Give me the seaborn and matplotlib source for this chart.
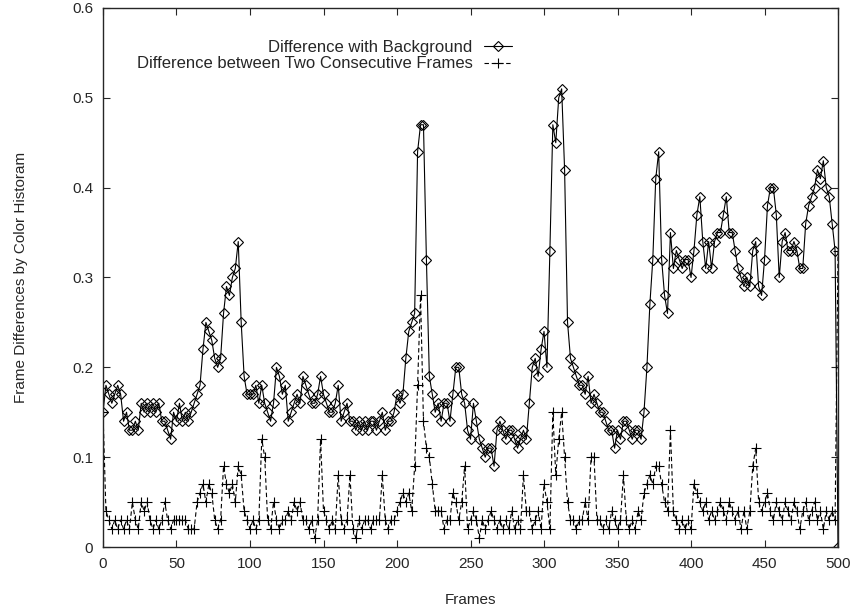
import matplotlib
matplotlib.use("Agg")
import matplotlib.pyplot as plt
import seaborn as sns
import numpy as np
import pandas as pd

frames = np.arange(0, 501, 2)

diff_background = [
    0.15, 0.18, 0.17, 0.16, 0.17, 0.18, 0.17, 0.14, 0.15, 0.13,
    0.13, 0.14, 0.13, 0.16, 0.15, 0.16, 0.15, 0.16, 0.15, 0.16,
    0.14, 0.14, 0.13, 0.12, 0.15, 0.14, 0.16, 0.14, 0.15, 0.14,
    0.15, 0.16, 0.17, 0.18, 0.22, 0.25, 0.24, 0.23, 0.21, 0.20,
    0.21, 0.26, 0.29, 0.28, 0.30, 0.31, 0.34, 0.25, 0.19, 0.17,
    0.17, 0.17, 0.18, 0.16, 0.18, 0.16, 0.15, 0.14, 0.16, 0.20,
    0.19, 0.17, 0.18, 0.14, 0.15, 0.16, 0.17, 0.16, 0.19, 0.18,
    0.17, 0.16, 0.16, 0.17, 0.19, 0.17, 0.16, 0.15, 0.15, 0.16,
    0.18, 0.14, 0.15, 0.16, 0.14, 0.14, 0.13, 0.14, 0.13, 0.14,
    0.13, 0.14, 0.14, 0.13, 0.14, 0.15, 0.13, 0.14, 0.14, 0.15,
    0.17, 0.16, 0.17, 0.21, 0.24, 0.25, 0.26, 0.44, 0.47, 0.47,
    0.32, 0.19, 0.17, 0.15, 0.16, 0.14, 0.16, 0.16, 0.14, 0.17,
    0.20, 0.20, 0.17, 0.16, 0.13, 0.12, 0.16, 0.14, 0.12, 0.11,
    0.10, 0.11, 0.11, 0.09, 0.13, 0.14, 0.13, 0.12, 0.13, 0.13,
    0.12, 0.11, 0.12, 0.13, 0.12, 0.16, 0.20, 0.21, 0.19, 0.22,
    0.24, 0.20, 0.33, 0.47, 0.45, 0.50, 0.51, 0.42, 0.25, 0.21,
    0.20, 0.19, 0.18, 0.18, 0.17, 0.19, 0.16, 0.17, 0.16, 0.15,
    0.15, 0.14, 0.13, 0.13, 0.11, 0.13, 0.12, 0.14, 0.14, 0.13,
    0.12, 0.13, 0.13, 0.12, 0.15, 0.20, 0.27, 0.32, 0.41, 0.44,
    0.32, 0.28, 0.26, 0.35, 0.31, 0.33, 0.32, 0.31, 0.32, 0.32,
    0.30, 0.33, 0.37, 0.39, 0.34, 0.31, 0.34, 0.31, 0.34, 0.35,
    0.35, 0.37, 0.39, 0.35, 0.35, 0.33, 0.31, 0.30, 0.29, 0.30,
    0.29, 0.33, 0.34, 0.29, 0.28, 0.32, 0.38, 0.40, 0.40, 0.37,
    0.30, 0.34, 0.35, 0.33, 0.33, 0.34, 0.33, 0.31, 0.31, 0.36,
    0.38, 0.39, 0.40, 0.42, 0.41, 0.43, 0.40, 0.39, 0.36, 0.33,
    0.00,
]

diff_consecutive = [
    0.15, 0.04, 0.03, 0.02, 0.03, 0.02, 0.03, 0.02, 0.03, 0.02,
    0.05, 0.03, 0.02, 0.05, 0.04, 0.05, 0.03, 0.02, 0.03, 0.02,
    0.03, 0.05, 0.03, 0.02, 0.03, 0.03, 0.03, 0.03, 0.03, 0.02,
    0.02, 0.02, 0.05, 0.06, 0.07, 0.05, 0.07, 0.06, 0.03, 0.02,
    0.03, 0.09, 0.07, 0.06, 0.07, 0.05, 0.09, 0.08, 0.04, 0.03,
    0.02, 0.03, 0.02, 0.03, 0.12, 0.10, 0.03, 0.02, 0.05, 0.03,
    0.02, 0.03, 0.03, 0.04, 0.03, 0.05, 0.04, 0.05, 0.03, 0.03,
    0.02, 0.03, 0.01, 0.03, 0.12, 0.04, 0.03, 0.02, 0.03, 0.02,
    0.08, 0.03, 0.02, 0.03, 0.08, 0.02, 0.01, 0.03, 0.02, 0.03,
    0.03, 0.02, 0.03, 0.03, 0.03, 0.08, 0.03, 0.02, 0.03, 0.03,
    0.04, 0.05, 0.06, 0.05, 0.06, 0.04, 0.09, 0.18, 0.28, 0.14,
    0.11, 0.10, 0.07, 0.04, 0.04, 0.04, 0.02, 0.03, 0.03, 0.06,
    0.05, 0.03, 0.05, 0.09, 0.02, 0.03, 0.04, 0.03, 0.01, 0.03,
    0.02, 0.03, 0.04, 0.03, 0.02, 0.03, 0.02, 0.03, 0.02, 0.04,
    0.02, 0.03, 0.02, 0.08, 0.04, 0.04, 0.02, 0.03, 0.04, 0.02,
    0.07, 0.05, 0.02, 0.15, 0.08, 0.12, 0.15, 0.10, 0.05, 0.03,
    0.03, 0.02, 0.03, 0.03, 0.05, 0.03, 0.10, 0.10, 0.03, 0.03,
    0.02, 0.03, 0.02, 0.04, 0.03, 0.02, 0.03, 0.08, 0.03, 0.02,
    0.03, 0.02, 0.04, 0.03, 0.06, 0.07, 0.08, 0.07, 0.09, 0.09,
    0.07, 0.05, 0.04, 0.13, 0.04, 0.03, 0.02, 0.03, 0.02, 0.03,
    0.02, 0.07, 0.06, 0.05, 0.04, 0.05, 0.03, 0.04, 0.03, 0.04,
    0.05, 0.04, 0.03, 0.05, 0.04, 0.03, 0.04, 0.02, 0.04, 0.02,
    0.04, 0.09, 0.11, 0.05, 0.04, 0.05, 0.06, 0.04, 0.03, 0.05,
    0.04, 0.03, 0.05, 0.04, 0.03, 0.05, 0.04, 0.02, 0.04, 0.05,
    0.03, 0.04, 0.05, 0.03, 0.04, 0.02, 0.04, 0.03, 0.04, 0.03,
    0.33,
]

series_labels = ["Difference with Background",
                 "Difference between Two Consecutive Frames"]
x_ticks = np.arange(0, 501, 50)
y_ticks = [0, 0.1, 0.2, 0.3, 0.4, 0.5, 0.6]
y_tick_labels = ["0", "0.1", "0.2", "0.3", "0.4", "0.5", "0.6"]

sns.set_style("ticks")
plt.rcParams["font.family"] = ["Liberation Sans", "DejaVu Sans"]

fig = plt.figure(figsize=(8.54, 6.12), dpi=100)
ax = fig.add_axes([0.1206, 0.1062, 0.8607, 0.8808])

df = pd.DataFrame({"frame": frames, "bg": diff_background, "cons": diff_consecutive})

# gnuplot-like look: thin black lines, open diamonds and plus signs
sns.lineplot(data=df, x="frame", y="bg", ax=ax, color="black", linewidth=0.8,
             marker="D", markersize=5, markerfacecolor="none",
             markeredgecolor="black", markeredgewidth=0.8,
             label=series_labels[0])
sns.lineplot(data=df, x="frame", y="cons", ax=ax, color="black", linewidth=0.8,
             linestyle=(0, (4, 2.5)), marker="+", markersize=7,
             markeredgecolor="black", markeredgewidth=0.8,
             label=series_labels[1])

ax.set_xlim(0, 500)
ax.set_ylim(0, 0.6)
ax.set_xticks(x_ticks)
ax.set_yticks(y_ticks)
ax.set_yticklabels(y_tick_labels)
ax.tick_params(direction="in", length=5, width=0.8, top=True, right=True,
               labelsize=11, pad=7)
for sp in ax.spines.values():
    sp.set_linewidth(1.0)
    sp.set_visible(True)

ax.set_xlabel("Frames", fontsize=11, labelpad=16)
ax.set_ylabel("Frame Differences by Color Historam", fontsize=11, labelpad=32)

ax.legend(loc="upper right", bbox_to_anchor=(0.6, 0.935),
          bbox_transform=fig.transFigure, frameon=False, markerfirst=False,
          fontsize=12, handlelength=1.7, handletextpad=0.7,
          labelspacing=0.1, borderpad=0, borderaxespad=0)

fig.savefig("out.png", dpi=100)
